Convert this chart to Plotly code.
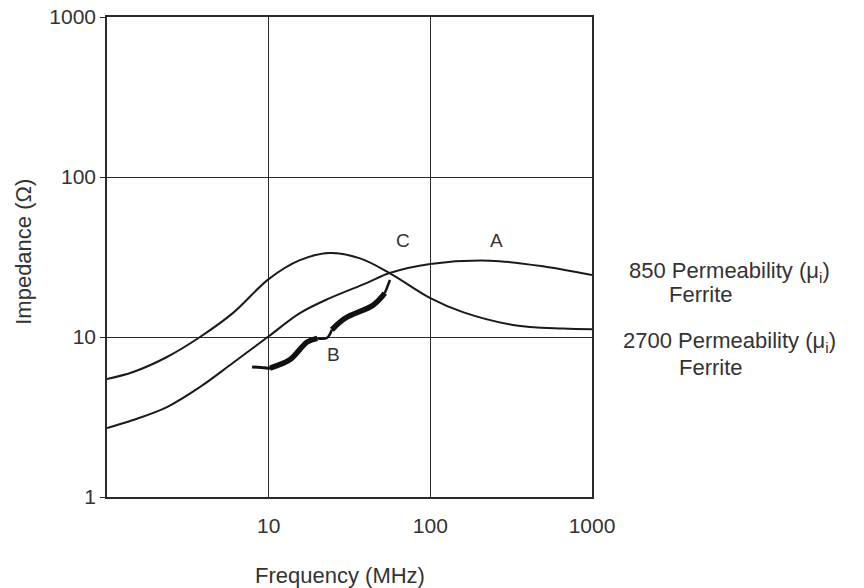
import plotly.graph_objects as go

# Data
freq_2700 = [1, 1.45, 2.35, 3.76, 6.0, 10, 15.6, 23.9, 36.7, 56, 100, 159, 324, 660, 1000]
imp_2700 = [5.46, 6.04, 7.5, 10.0, 14.1, 23.0, 30.2, 33.5, 31.0, 25.1, 17.5, 14.3, 11.9, 11.3, 11.2]

freq_850 = [1, 1.45, 2.35, 3.76, 6.0, 10, 15.6, 23.9, 40.6, 56, 100, 235, 527, 1000]
imp_850 = [2.7, 3.03, 3.65, 4.87, 6.88, 10.1, 14.1, 17.5, 21.8, 25.1, 28.6, 30.0, 27.4, 24.4]

# Bracket "B" segments (frequency, impedance) with stroke widths
b_seg1_f = [7.9, 9.0, 10.2, 13.5]
b_seg1_z = [6.5, 6.45, 6.4, 7.2]
b_seg2_f = [10.2, 13.5, 17.3, 20.0]
b_seg2_z = [6.4, 7.2, 9.3, 9.8]
b_seg3_f = [20.0, 22.9, 24.6]
b_seg3_z = [9.8, 9.86, 11.1]
b_seg4_f = [24.6, 29.7, 44.2, 52.3]
b_seg4_z = [11.1, 13.1, 15.8, 18.8]
b_seg5_f = [52.3, 56.3]
b_seg5_z = [18.8, 22.7]

x_ticks = [10, 100, 1000]
y_ticks = [1, 10, 100, 1000]

font_family = "Liberation Sans, Arial, sans-serif"
txt_color = "#333333"
fs = 21
fs_big = 22

fig = go.Figure()
fig.add_trace(go.Scatter(x=freq_2700, y=imp_2700, mode="lines",
                         line=dict(color="#1a1a1a", width=2, shape="spline", smoothing=1.0),
                         hoverinfo="skip", showlegend=False))
fig.add_trace(go.Scatter(x=freq_850, y=imp_850, mode="lines",
                         line=dict(color="#1a1a1a", width=2, shape="spline", smoothing=1.0),
                         hoverinfo="skip", showlegend=False))

for fx, zy, w in [(b_seg1_f, b_seg1_z, 3), (b_seg2_f, b_seg2_z, 5.5), (b_seg3_f, b_seg3_z, 2.5),
                  (b_seg4_f, b_seg4_z, 5.5), (b_seg5_f, b_seg5_z, 2.5)]:
    fig.add_trace(go.Scatter(x=fx, y=zy, mode="lines",
                             line=dict(color="#111111", width=w, shape="spline"),
                             hoverinfo="skip", showlegend=False))

axis_common = dict(type="log", showline=True, linecolor="#2a2a2a", linewidth=1.5, mirror=True,
                   showgrid=True, gridcolor="#2a2a2a", gridwidth=1.3, zeroline=False,
                   automargin=False,
                   tickfont=dict(family=font_family, size=fs, color=txt_color))

fig.update_xaxes(range=[0, 3], tickvals=x_ticks, ticktext=[str(v) for v in x_ticks],
                 ticks="", ticklabelstandoff=9, **axis_common)
fig.update_yaxes(range=[0, 3], tickvals=y_ticks, ticktext=[str(v) for v in y_ticks],
                 ticks="outside", ticklen=5, tickcolor="#2a2a2a", tickwidth=1.3, **axis_common)


def ann(text, px, py, size=fs_big, angle=0):
    # px, py: paper coordinates
    return dict(text=text, x=px, y=py, xref="paper", yref="paper", xanchor="center",
                yanchor="middle", showarrow=False, textangle=angle,
                font=dict(family=font_family, size=size, color=txt_color))


annotations = [
    ann("Frequency (MHz)", 0.48, -0.1625),
    ann("Impedance (Ω)", -0.172, 0.51, angle=-90),
    ann("850 Permeability (μ<sub>i</sub>)", 1.284, 0.469),
    ann("Ferrite", 1.225, 0.421),
    ann("2700 Permeability (μ<sub>i</sub>)", 1.284, 0.322),
    ann("Ferrite", 1.245, 0.27),
    ann("C", 0.610, 0.534, 19),
    ann("A", 0.804, 0.534, 19),
    ann("B", 0.466, 0.296, 19),
]

fig.update_layout(width=864, height=588, margin=dict(l=107, r=272, t=17, b=91),
                  paper_bgcolor="white", plot_bgcolor="white", annotations=annotations,
                  showlegend=False)

fig.write_html("out.html")
